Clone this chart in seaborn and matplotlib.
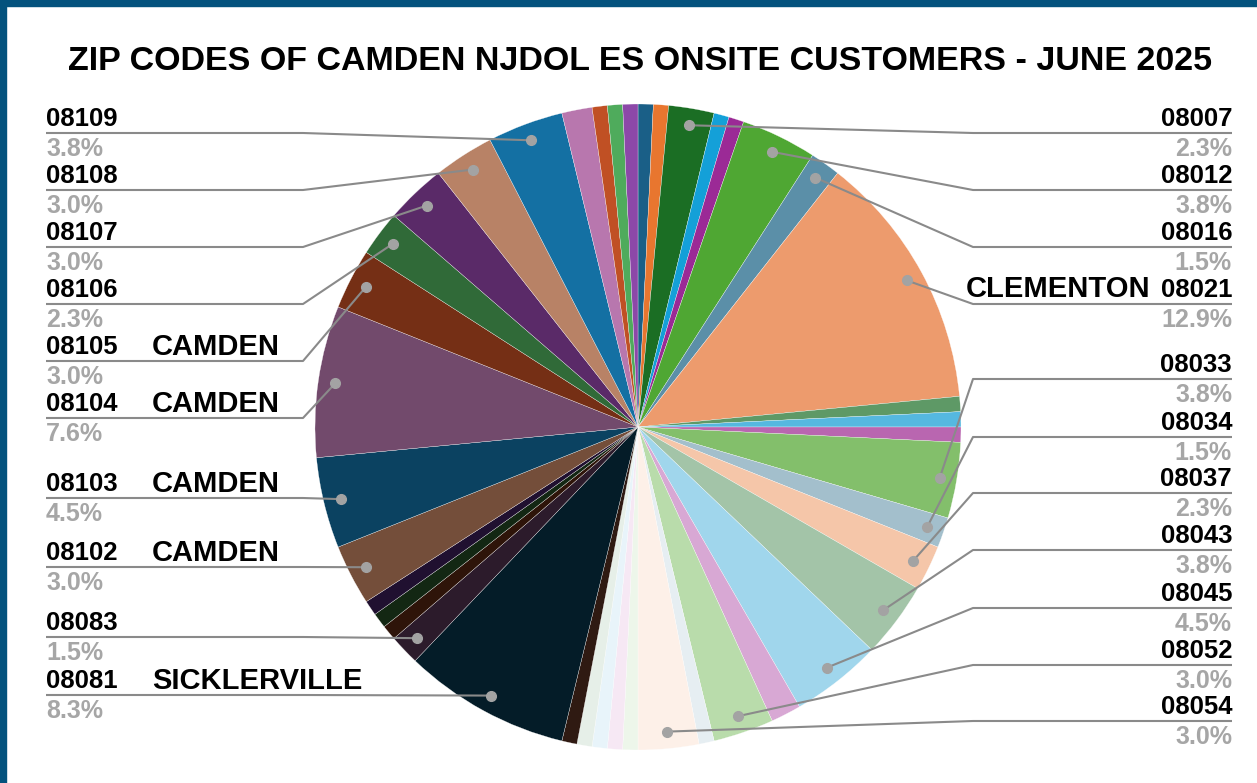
import numpy as np
import matplotlib.pyplot as plt
import seaborn as sns

sns.set_style('white')
plt.rcParams['font.family'] = ['Liberation Sans', 'DejaVu Sans']

# zip codes in sheet order (clockwise from 12 o'clock), customer counts and slice colours
zips = ['08002', '08003', '08007', '08009', '08010', '08012', '08016', '08021',
        '08026', '08029', '08030', '08033', '08034', '08037', '08043', '08045',
        '08049', '08052', '08053', '08054', '08059', '08060', '08063', '08078',
        '08080', '08081', '08083', '08084', '08091', '08094', '08102', '08103',
        '08104', '08105', '08106', '08107', '08108', '08109', '08110', '08204',
        '08318', '08330']
customers = [1, 1, 3, 1, 1, 5, 2, 17,
             1, 1, 1, 5, 2, 3, 5, 6,
             2, 4, 1, 4, 1, 1, 1, 1,
             1, 11, 2, 1, 1, 1, 4, 6,
             10, 4, 3, 4, 4, 5, 2, 1,
             1, 1]
colors = ['#1a5f87', '#e8762f', '#1b6e24', '#14a0d8', '#9b2a96', '#4fa733', '#5b8fa8', '#ed9b6d',
          '#5e9966', '#55b8e0', '#b966b0', '#83bf6b', '#a3bfcc', '#f5c6a9', '#a3c4a8', '#a0d6ec',
          '#d8a8d4', '#b9dcab', '#e6eef2', '#fdf0e8', '#edf6ea', '#f6e8f4', '#e8f4fa', '#e6efe8',
          '#2f1a12', '#041c28', '#2c1b2b', '#2e1409', '#132713', '#201030', '#744e3a', '#0b4261',
          '#724a6c', '#752f15', '#306a38', '#5a2a68', '#b88266', '#1470a3', '#b877ae', '#c05024',
          '#4fab5c', '#8c48a8']

# which slices get a label, and the town written next to some of them
right_labels = ['08007', '08012', '08016', '08021', '08033', '08034', '08037',
                '08043', '08045', '08052', '08054']
left_labels = ['08109', '08108', '08107', '08106', '08105', '08104', '08103',
               '08102', '08083', '08081']
towns = {'08021': 'CLEMENTON', '08081': 'SICKLERVILLE', '08102': 'CAMDEN',
         '08103': 'CAMDEN', '08104': 'CAMDEN', '08105': 'CAMDEN'}

# label rows (pixel y of the underline), layout only
right_rows = [133, 190, 247, 304, 379, 437, 493, 550, 608, 665, 721]
left_rows = [133, 190, 247, 304, 361, 418, 498, 567, 637, 695]

W, H = 1257, 783
cx, cy, R = 638, 427, 323

fig = plt.figure(figsize=(W / 100, H / 100), dpi=100)
ax = fig.add_axes([0, 0, 1, 1])

ax.pie(customers, colors=colors, startangle=90, counterclock=False,
       center=(cx, H - cy), radius=R,
       wedgeprops=dict(edgecolor='white', linewidth=0.2))

# pie() resets the limits, so set the pixel frame afterwards
ax.set_xlim(0, W)
ax.set_ylim(0, H)
ax.set_aspect('equal')
ax.axis('off')

total = sum(customers)
cum = np.cumsum([0] + customers)
mid = {z: (cum[i] + customers[i] / 2) / total * 2 * np.pi for i, z in enumerate(zips)}
share = {z: customers[i] / total * 100 for i, z in enumerate(zips)}

line_col = '#8a8a8a'
dot_col = '#a3a3a3'


def draw_label(z, row, side):
    th = mid[z]
    dx = cx + 306 * np.sin(th)
    dy = H - (cy - 306 * np.cos(th))
    if side == 'right':
        xs = [dx, 973, 1232]
        tx, ha = 1232, 'right'
    else:
        xs = [dx, 303, 46]
        tx, ha = 46, 'left'
    ys = [dy, H - row, H - row]
    ax.plot(xs, ys, color=line_col, lw=1.5, zorder=5, solid_capstyle='butt')
    ax.plot(dx, dy, 'o', color=dot_col, ms=7, zorder=6)
    ax.text(tx, H - row + 7, z, ha=ha, va='baseline', fontsize=18.5,
            fontweight='bold', color='black')
    ax.text(tx, H - row - 23, f'{share[z]:.1f}%', ha=ha, va='baseline', fontsize=18,
            fontweight='bold', color='#a6a6a6')
    if z in towns:
        if side == 'right':
            ax.text(1150, H - row + 7, towns[z], ha='right', va='baseline',
                    fontsize=21, fontweight='bold', color='black')
        else:
            ax.text(152, H - row + 6, towns[z], ha='left', va='baseline',
                    fontsize=21, fontweight='bold', color='black')


for z, row in zip(right_labels, right_rows):
    draw_label(z, row, 'right')
for z, row in zip(left_labels, left_rows):
    draw_label(z, row, 'left')

ax.text(640, H - 62, 'ZIP CODES OF CAMDEN NJDOL ES ONSITE CUSTOMERS - JUNE 2025',
        ha='center', va='center', fontsize=24.5, fontweight='bold', color='black')

# dark blue frame on top and left edges
fig.patches.append(plt.Rectangle((0, 1 - 6 / H), 1, 6 / H, transform=fig.transFigure,
                                 color='#03527d', zorder=10))
fig.patches.append(plt.Rectangle((0, 0), 6 / W, 1, transform=fig.transFigure,
                                 color='#03527d', zorder=10))

fig.savefig('out.png', dpi=100)
